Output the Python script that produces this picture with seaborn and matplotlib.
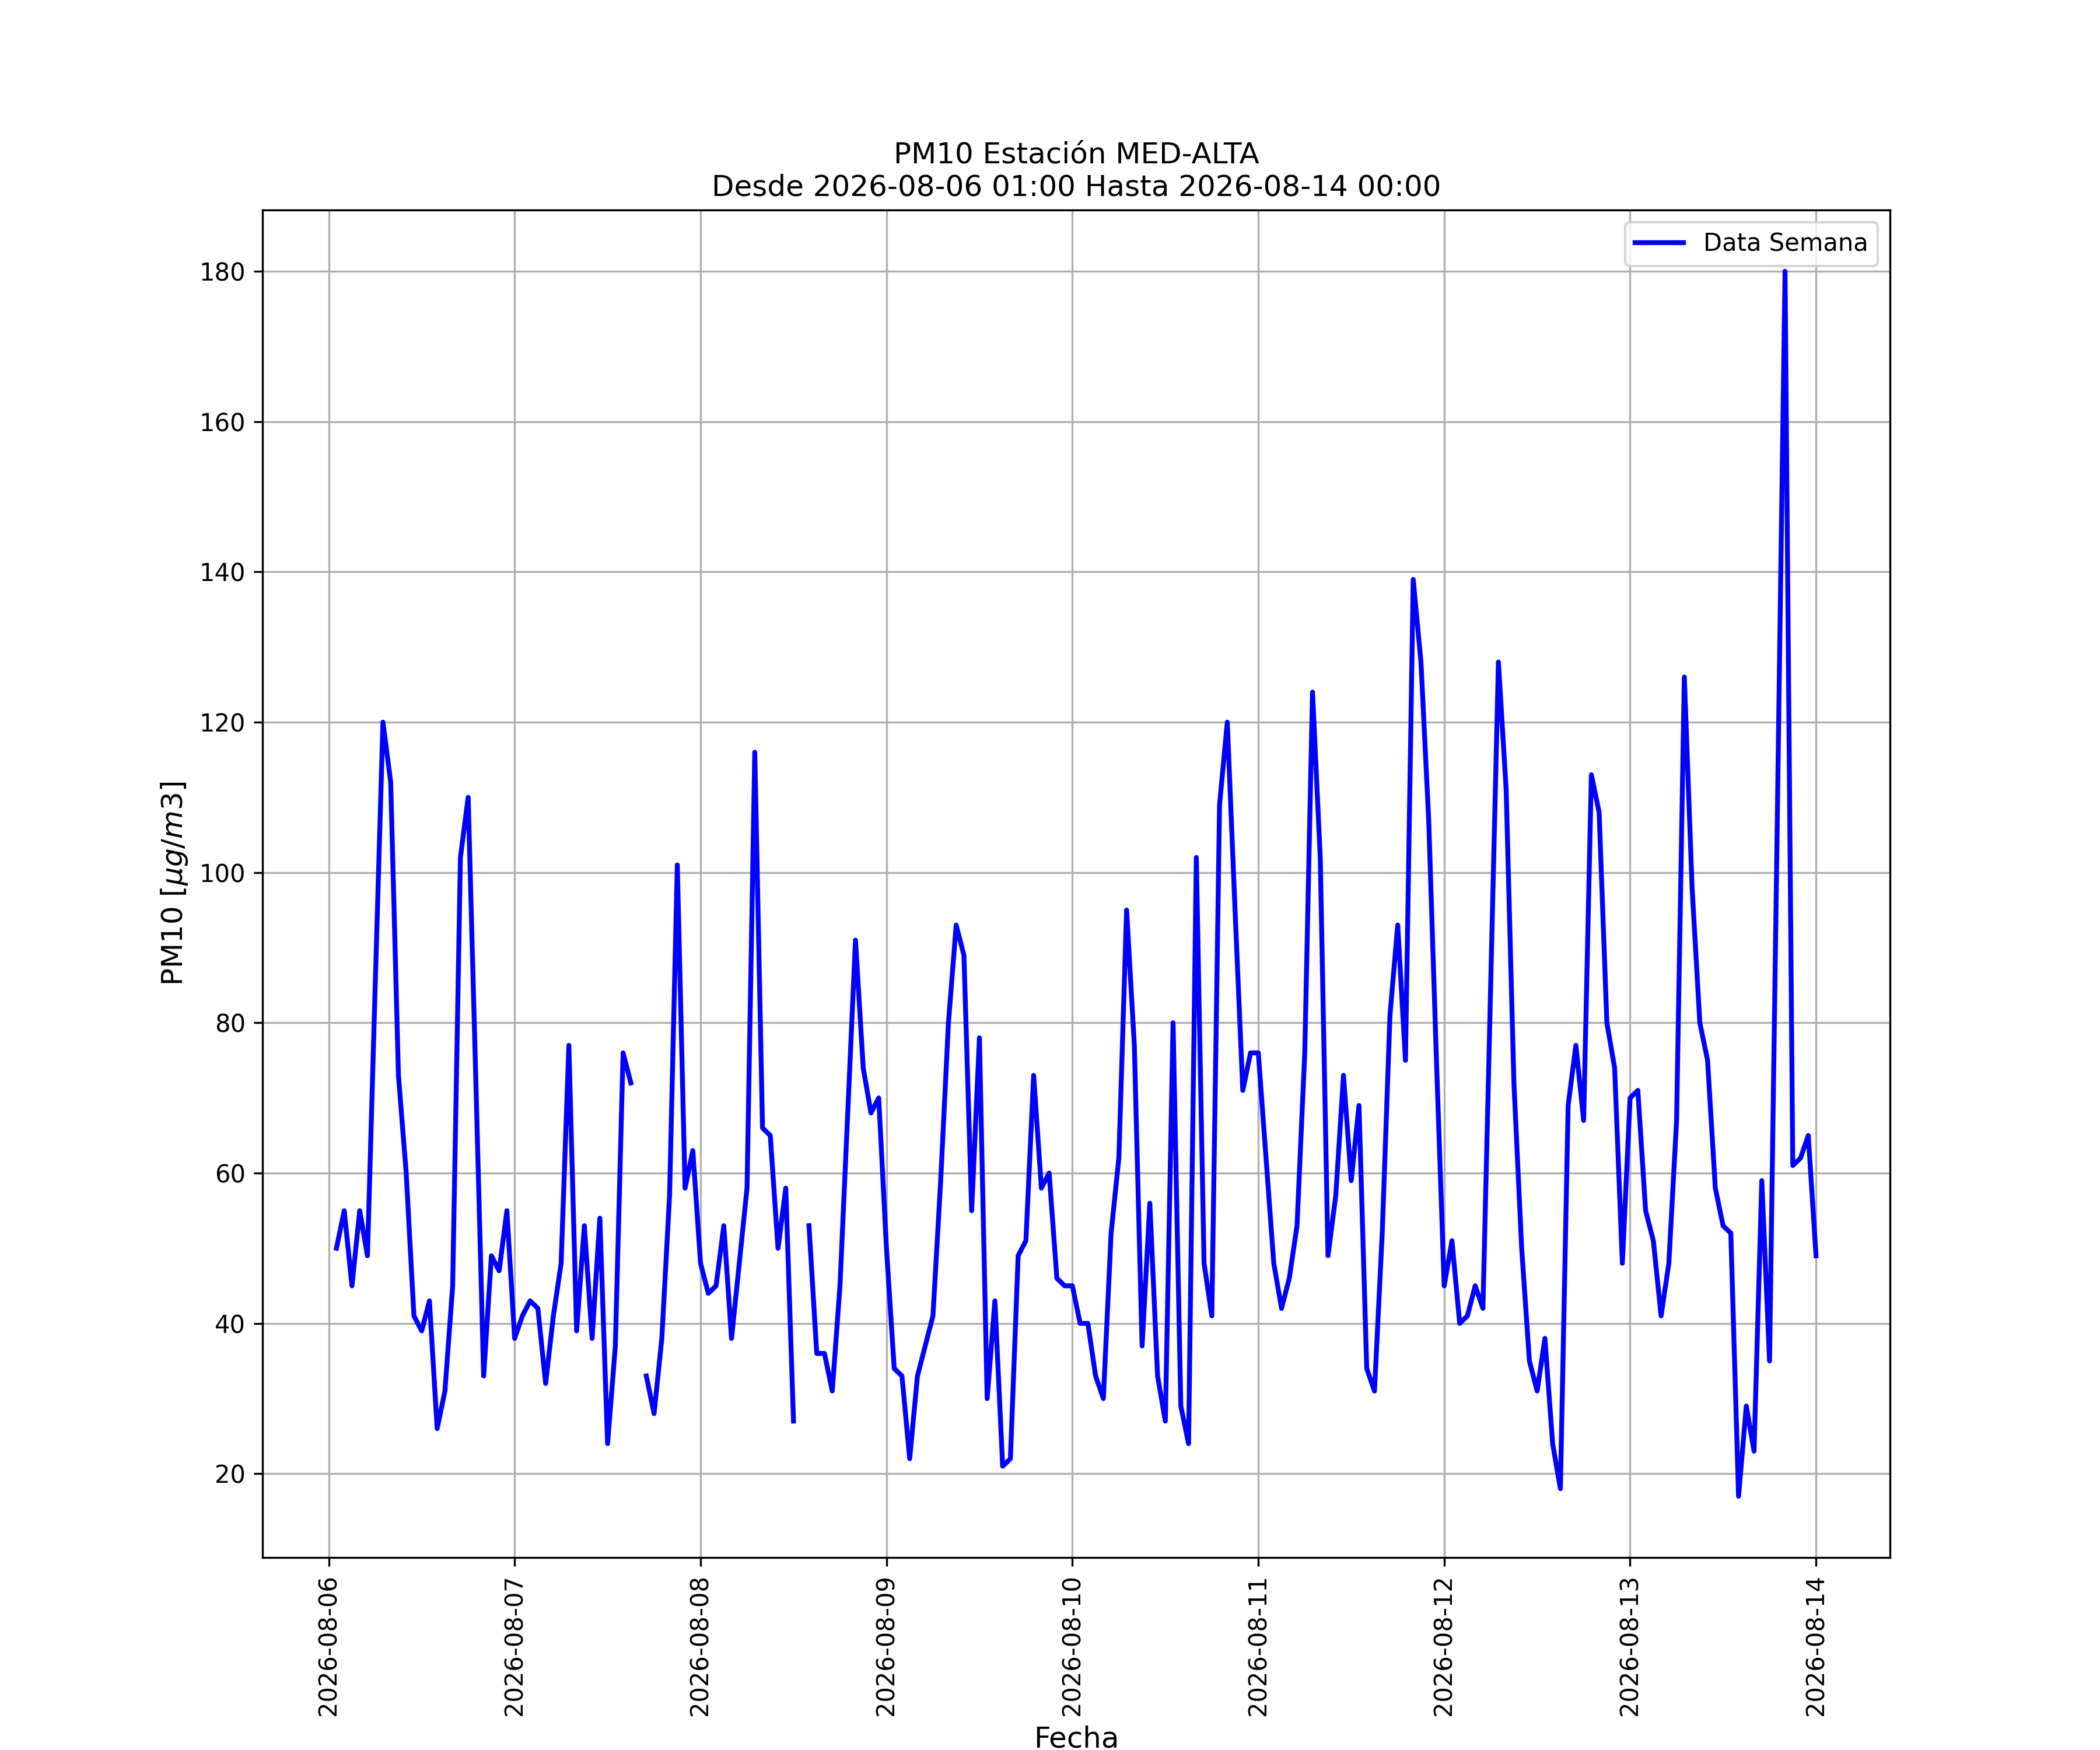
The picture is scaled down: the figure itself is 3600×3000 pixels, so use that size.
import numpy as np
import pandas as pd
import seaborn as sns
import matplotlib.pyplot as plt
import matplotlib.dates as mdates

# hourly PM10, 2026-08-06 01:00 .. 2026-08-14 00:00 (NaN = missing hour)
dia1 = [50, 55, 45, 55, 49, 85, 120, 112, 73, 60, 41, 39, 43, 26, 31, 45, 102, 110, 72, 33, 49, 47, 55, 38]
dia2 = [41, 43, 42, 32, 41, 48, 77, 39, 53, 38, 54, 24, 37, 76, 72, np.nan, 33, 28, 38, 57, 101, 58, 63, 48]
dia3 = [44, 45, 53, 38, 48, 58, 116, 66, 65, 50, 58, 27, np.nan, 53, 36, 36, 31, 45, 68, 91, 74, 68, 70, 50]
dia4 = [34, 33, 22, 33, 37, 41, 59, 80, 93, 89, 55, 78, 30, 43, 21, 22, 49, 51, 73, 58, 60, 46, 45, 45]
dia5 = [40, 40, 33, 30, 52, 62, 95, 77, 37, 56, 33, 27, 80, 29, 24, 102, 48, 41, 109, 120, 95, 71, 76, 76]
dia6 = [62, 48, 42, 46, 53, 76, 124, 102, 49, 57, 73, 59, 69, 34, 31, 52, 81, 93, 75, 139, 128, 107, 75, 45]
dia7 = [51, 40, 41, 45, 42, 85, 128, 111, 72, 50, 35, 31, 38, 24, 18, 69, 77, 67, 113, 108, 80, 74, 48, 70]
dia8 = [71, 55, 51, 41, 48, 67, 126, 98, 80, 75, 58, 53, 52, 17, 29, 23, 59, 35, 107, 180, 61, 62, 65, 49]

pm10 = dia1 + dia2 + dia3 + dia4 + dia5 + dia6 + dia7 + dia8
fechas = pd.date_range("2026-08-06 01:00", "2026-08-14 00:00", freq="h")

df = pd.DataFrame({"Fecha": fechas, "PM10": pm10})
# break the line at missing hours
df["tramo"] = df["PM10"].isna().cumsum()
df = df.dropna()

fig = plt.figure(figsize=(12, 10), dpi=300)
ax = fig.add_subplot(111)
sns.lineplot(data=df, x="Fecha", y="PM10", units="tramo", estimator=None,
             color="blue", linewidth=2, ax=ax)

ax.grid(True)
ax.xaxis.set_major_locator(mdates.DayLocator())
ax.xaxis.set_major_formatter(mdates.DateFormatter("%Y-%m-%d"))
plt.setp(ax.get_xticklabels(), rotation=90)

ax.set_title("PM10 Estación MED-ALTA\nDesde 2026-08-06 01:00 Hasta 2026-08-14 00:00", fontsize=12)
ax.set_xlabel("Fecha", fontsize=12)
ax.set_ylabel("PM10 [$\\mu g/m3$]", fontsize=12)
ax.legend(handles=ax.lines[:1], labels=["Data Semana"], loc="upper right")

fig.savefig("out.png", dpi=300)
